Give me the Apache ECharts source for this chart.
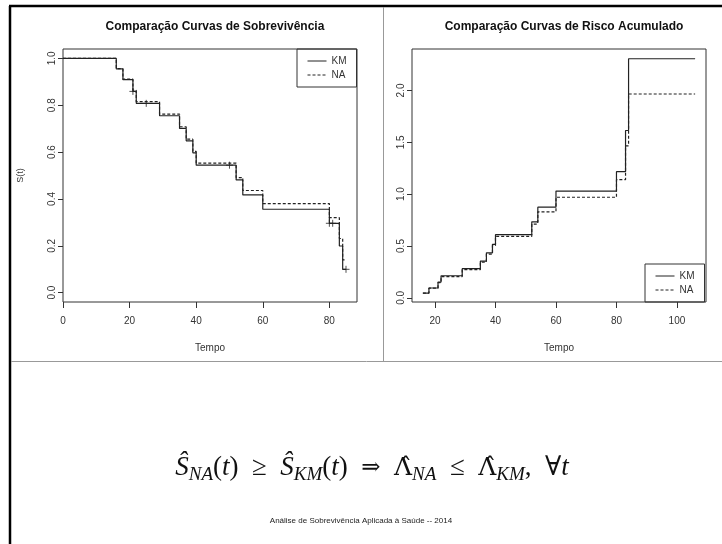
<!DOCTYPE html>
<html>
<head>
<meta charset="utf-8">
<script src="https://cdn.jsdelivr.net/npm/echarts@6/dist/echarts.min.js"></script>
<style>
  html, body { margin: 0; padding: 0; background: #fff; }
  #chart { width: 722px; height: 544px; }
</style>
</head>
<body>
<div id="chart"></div>
<script>
// curvas de sobrevivencia (painel esquerdo)
var tempoS = [0, 16, 18, 21, 22, 29, 35, 37, 39, 40, 52, 54, 60, 80, 83, 84, 85];
var survKM = [1, 0.955, 0.909, 0.859, 0.808, 0.755, 0.701, 0.648, 0.597, 0.544, 0.481, 0.417, 0.356, 0.296, 0.199, 0.0996, 0.0996];
var survNA = [1, 0.956, 0.911, 0.864, 0.815, 0.762, 0.708, 0.655, 0.603, 0.553, 0.491, 0.436, 0.380, 0.320, 0.231, 0.140, 0.140];
// censuras (+) na curva KM
var censTempo = [21, 25, 50, 80, 81, 85];
var censSurv = [0.859, 0.808, 0.544, 0.296, 0.296, 0.0996];

// risco acumulado (painel direito)
var tempoH = [16, 18, 21, 22, 29, 35, 37, 39, 40, 52, 54, 60, 80, 83, 84, 106];
var riscoKM = [0.046, 0.095, 0.152, 0.213, 0.281, 0.355, 0.434, 0.516, 0.609, 0.733, 0.875, 1.03, 1.217, 1.614, 2.306, 2.306];
var riscoNA = [0.045, 0.093, 0.146, 0.204, 0.272, 0.345, 0.422, 0.505, 0.592, 0.712, 0.83, 0.97, 1.14, 1.466, 1.966, 1.966];

var ticksXS = [0, 20, 40, 60, 80];
var ticksYS = [0, 0.2, 0.4, 0.6, 0.8, 1.0];
var ticksXH = [20, 40, 60, 80, 100];
var ticksYH = [0, 0.5, 1.0, 1.5, 2.0];

function pares(xs, ys) {
  return xs.map(function (x, i) { return [x, ys[i]]; });
}

var fonte = "'Liberation Sans', Arial, sans-serif";
var serif = "'Liberation Serif', 'DejaVu Serif', serif";
var cinza = '#333';
var linha = '#222';

function eixoX(idx, min, max, ticks) {
  return {
    type: 'value', gridIndex: idx, min: min, max: max,
    name: 'Tempo', nameLocation: 'middle', nameGap: 41,
    nameTextStyle: { fontFamily: fonte, fontSize: 10, color: cinza },
    axisLine: { show: false, onZero: false },
    axisTick: { show: true, length: 6, inside: false, customValues: ticks, lineStyle: { color: cinza } },
    axisLabel: { customValues: ticks, margin: 14, fontFamily: fonte, fontSize: 10, color: cinza },
    splitLine: { show: false }
  };
}

function eixoY(idx, min, max, ticks, nome) {
  return {
    type: 'value', gridIndex: idx, min: min, max: max,
    name: nome, nameLocation: 'middle', nameGap: 38,
    nameTextStyle: { fontFamily: fonte, fontSize: 9, color: cinza },
    axisLine: { show: false, onZero: false },
    axisTick: { show: true, length: 5, customValues: ticks, lineStyle: { color: cinza } },
    axisLabel: {
      customValues: ticks, rotate: 90, margin: 6, fontFamily: fonte, fontSize: 10, color: cinza,
      formatter: function (v) { return v.toFixed(1); }
    },
    splitLine: { show: false }
  };
}

function degrau(nome, idx, dados, tracejado) {
  return {
    name: nome, type: 'line', step: 'end', xAxisIndex: idx, yAxisIndex: idx,
    data: dados, symbol: 'none', silent: true,
    lineStyle: { color: linha, width: 1.2, type: tracejado ? [3, 2] : 'solid' },
    itemStyle: { color: linha }
  };
}

function legenda(x, y) {
  return {
    data: ['KM', 'NA'], orient: 'vertical', left: x, top: y, padding: [7, 10, 7, 10],
    itemWidth: 19, itemHeight: 10, itemGap: 4, borderColor: cinza, borderWidth: 1,
    itemStyle: { color: 'rgba(0,0,0,0)', borderWidth: 0 },
    lineStyle: { width: 1 },
    textStyle: { fontFamily: fonte, fontSize: 10, color: cinza }
  };
}

var chart = echarts.init(document.getElementById('chart'), null, { renderer: 'canvas' });

chart.setOption({
  animation: false,
  backgroundColor: '#fff',
  title: [
    { text: 'Comparação Curvas de Sobrevivência', left: 210, top: 16, textAlign: 'center',
      textStyle: { fontFamily: fonte, fontSize: 12, fontWeight: 'bold', color: '#111' } },
    { text: 'Comparação Curvas de Risco Acumulado', left: 559, top: 16, textAlign: 'center',
      textStyle: { fontFamily: fonte, fontSize: 12, fontWeight: 'bold', color: '#111' } }
  ],
  legend: [legenda(297, 49), legenda(645, 264)],
  grid: [
    { left: 63, top: 49, width: 294, height: 253, show: true, borderColor: cinza, borderWidth: 1 },
    { left: 412, top: 49, width: 294, height: 253, show: true, borderColor: cinza, borderWidth: 1 }
  ],
  xAxis: [eixoX(0, 0, 88.3, ticksXS), eixoX(1, 12.4, 109.6, ticksXH)],
  yAxis: [eixoY(0, -0.04, 1.04, ticksYS, 'S(t)'), eixoY(1, -0.04, 2.4, ticksYH, '')],
  series: [
    degrau('NA', 0, pares(tempoS, survNA), true),
    degrau('KM', 0, pares(tempoS, survKM), false),
    {
      name: 'censura', type: 'scatter', xAxisIndex: 0, yAxisIndex: 0, silent: true,
      data: pares(censTempo, censSurv),
      symbol: 'path://M0,5L10,5M5,0L5,10', symbolSize: 7,
      itemStyle: { color: 'rgba(0,0,0,0)', borderColor: linha, borderWidth: 1 }
    },
    degrau('NA', 1, pares(tempoH, riscoNA), true),
    degrau('KM', 1, pares(tempoH, riscoKM), false)
  ],
  graphic: [
    { type: 'line', shape: { x1: 10, y1: 6, x2: 10, y2: 544 }, style: { stroke: '#000', lineWidth: 2.5 } },
    { type: 'line', shape: { x1: 9, y1: 6, x2: 722, y2: 6 }, style: { stroke: '#000', lineWidth: 2.5 } },
    { type: 'line', shape: { x1: 383.5, y1: 7, x2: 383.5, y2: 361 }, style: { stroke: '#999', lineWidth: 1 } },
    { type: 'line', shape: { x1: 11, y1: 361.5, x2: 722, y2: 361.5 }, style: { stroke: '#999', lineWidth: 1 } },
    {
      type: 'text', x: 372, y: 468,
      style: {
        text: '{it|Ŝ}{sub|NA}{rm|(}{it|t}{rm|)\u2002≥\u2002}{it|Ŝ}{sub|KM}{rm|(}{it|t}{rm|)\u2002}{ar|⇒}{rm|\u2002}{lam|Λ\u0302}{sub|NA}{rm|\u2002≤\u2002}{lam|Λ\u0302}{sub|KM}{rm|,\u2002∀}{it|t}',
        align: 'center', verticalAlign: 'middle',
        rich: {
          it: { fontFamily: serif, fontStyle: 'italic', fontSize: 27, fill: '#111' },
          rm: { fontFamily: serif, fontSize: 27, fill: '#111' },
          ar: { fontFamily: "'DejaVu Serif', serif", fontSize: 23, fill: '#111' },
          lam: { fontFamily: "'DejaVu Serif', serif", fontSize: 25, fill: '#111' },
          sub: { fontFamily: serif, fontStyle: 'italic', fontSize: 19, fill: '#111', padding: [14, 0, 0, 0] }
        }
      }
    },
    {
      type: 'text', x: 361, y: 521,
      style: { text: 'Análise de Sobrevivência Aplicada à Saúde -- 2014', align: 'center', verticalAlign: 'middle',
        fontFamily: fonte, fontSize: 8, fill: '#222' }
    }
  ]
});
</script>
</body>
</html>
